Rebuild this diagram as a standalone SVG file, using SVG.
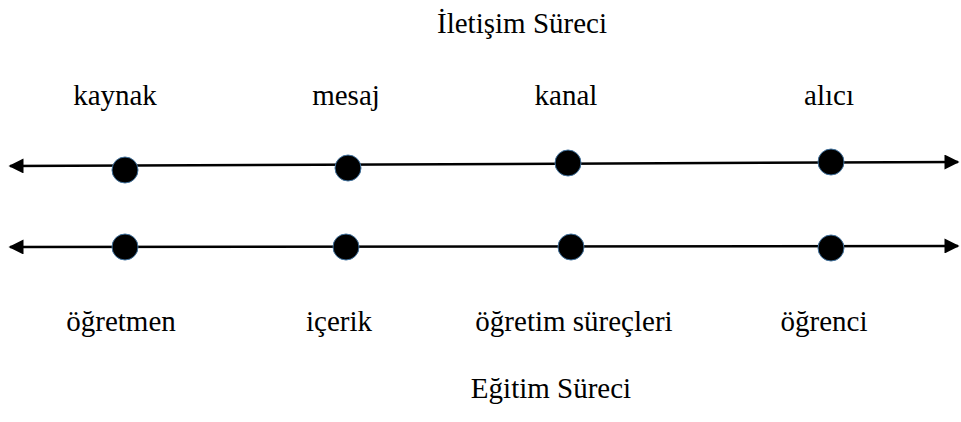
<svg xmlns="http://www.w3.org/2000/svg" width="961" height="422" viewBox="0 0 961 422">
<style>
text{font-family:"Liberation Serif","Times New Roman",serif;font-size:29px;fill:#000;text-anchor:middle}
.ax{stroke:#000;stroke-width:2.5;fill:none}
.dot{fill:#000;stroke:#41719C;stroke-width:1}
</style>
<defs>
<marker id="arr" viewBox="0 0 10 10" refX="9" refY="5" markerUnits="userSpaceOnUse" markerWidth="16" markerHeight="15" orient="auto-start-reverse">
<path d="M0,0 L10,5 L0,10 Z" fill="#000"/>
</marker>
</defs>
<g id="connectors">
<line class="ax" x1="10" y1="166" x2="958" y2="162" marker-start="url(#arr)" marker-end="url(#arr)"/>
<line class="ax" x1="10" y1="247" x2="958" y2="246" marker-start="url(#arr)" marker-end="url(#arr)"/>
</g>
<g id="title-top"><text x="522" y="33">İletişim Süreci</text></g>
<g id="kaynak"><circle class="dot" cx="125" cy="170" r="13"/><text x="115" y="105">kaynak</text></g>
<g id="mesaj"><circle class="dot" cx="348" cy="168" r="13"/><text x="346" y="105">mesaj</text></g>
<g id="kanal"><circle class="dot" cx="568" cy="163" r="13"/><text x="566" y="105">kanal</text></g>
<g id="alici"><circle class="dot" cx="831" cy="162" r="13"/><text x="829" y="105">alıcı</text></g>
<g id="ogretmen"><circle class="dot" cx="125" cy="247" r="13"/><text x="121" y="331">öğretmen</text></g>
<g id="icerik"><circle class="dot" cx="346" cy="247" r="13"/><text x="339" y="331">içerik</text></g>
<g id="ogretim-surecleri"><circle class="dot" cx="571" cy="247" r="13"/><text x="574" y="331">öğretim süreçleri</text></g>
<g id="ogrenci"><circle class="dot" cx="831" cy="248" r="13"/><text x="824" y="331">öğrenci</text></g>
<g id="title-bottom"><text x="551" y="398">Eğitim Süreci</text></g>
</svg>
